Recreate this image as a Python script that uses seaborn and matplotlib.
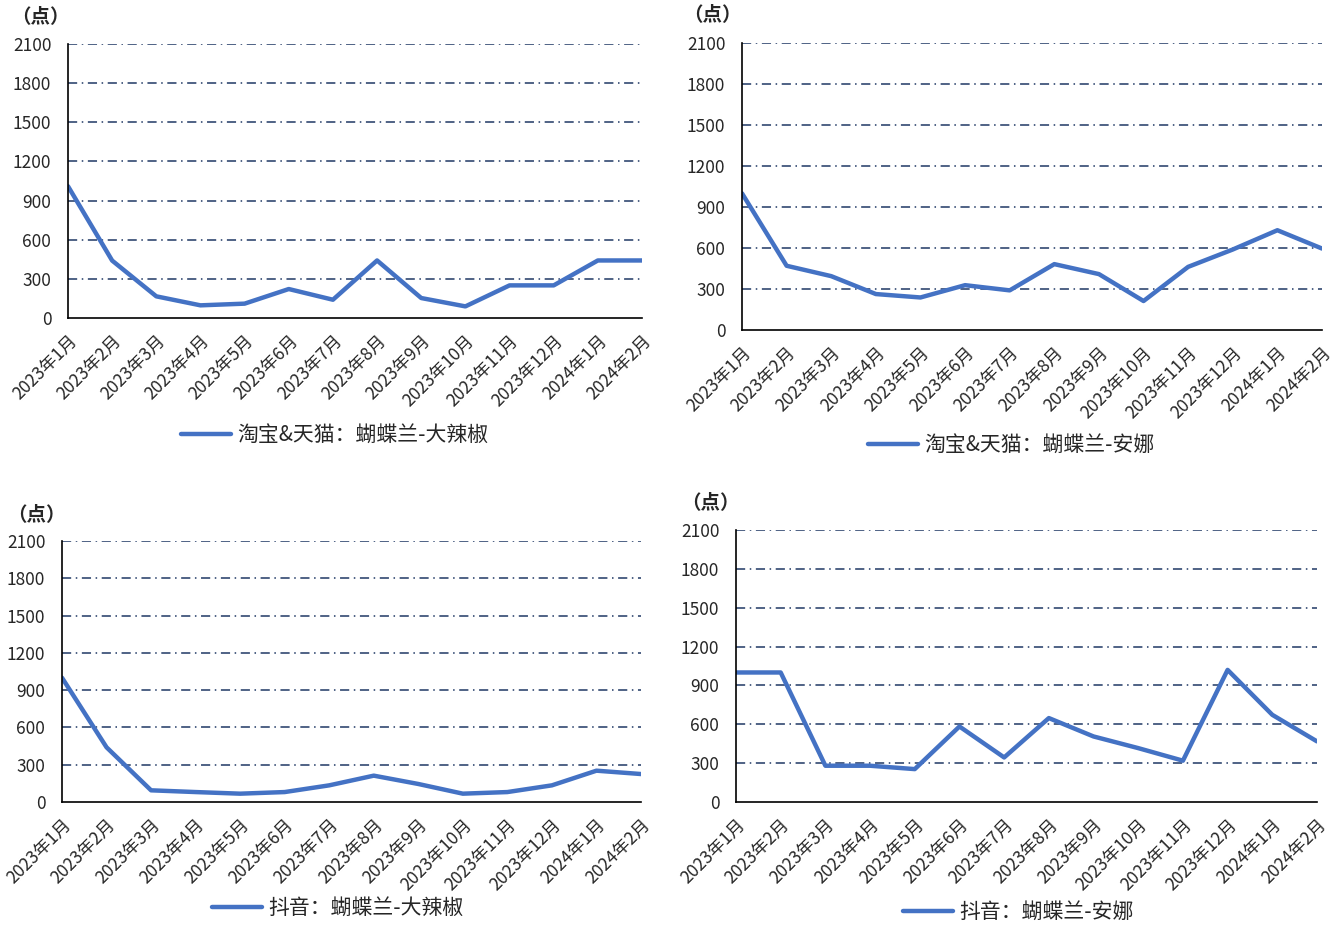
import matplotlib
matplotlib.use("Agg")
import matplotlib.pyplot as plt
import seaborn as sns
import numpy as np
import pandas as pd

sns.set_style("white")
plt.rcParams['font.family'] = ['Noto Sans CJK SC', 'DejaVu Sans']

months = ['2023年1月', '2023年2月', '2023年3月', '2023年4月', '2023年5月', '2023年6月',
          '2023年7月', '2023年8月', '2023年9月', '2023年10月', '2023年11月', '2023年12月',
          '2024年1月', '2024年2月']

tb_djl = [1010, 440, 166, 97, 110, 222, 140, 441, 153, 89, 250, 250, 441, 441]
tb_an = [1000, 470, 394, 263, 238, 328, 290, 482, 409, 212, 462, 589, 730, 596]
dy_djl = [1000, 440, 94, 80, 67, 80, 134, 212, 145, 67, 80, 134, 252, 225]
dy_an = [1000, 1000, 280, 280, 254, 583, 344, 648, 506, 416, 319, 1020, 673, 468]

series = [tb_djl, tb_an, dy_djl, dy_an]
labels = ['淘宝&天猫：蝴蝶兰-大辣椒', '淘宝&天猫：蝴蝶兰-安娜',
          '抖音：蝴蝶兰-大辣椒', '抖音：蝴蝶兰-安娜']
yticks = [0, 300, 600, 900, 1200, 1500, 1800, 2100]

W, H = 1343, 927
# axes boxes in pixels: left, top, right, bottom
boxes = [(68, 44, 642, 318), (742, 43, 1322, 330),
         (62, 541, 641, 802), (736, 530, 1317, 802)]
legend_pos = [(335, 435), (1011, 445), (338, 908), (1018, 912)]
unit_pos = [(40, 17), (712, 15), (36, 515), (710, 503)]

line_color = '#4472C4'
grid_color = '#1F3864'

fig = plt.figure(figsize=(W / 100, H / 100), dpi=100)

for vals, lab, box, lp, up in zip(series, labels, boxes, legend_pos, unit_pos):
    l, t, r, b = box
    ax = fig.add_axes([l / W, 1 - b / H, (r - l) / W, (b - t) / H])
    df = pd.DataFrame({'月份': months, '指数': vals})
    sns.lineplot(data=df, x='月份', y='指数', ax=ax, color=line_color,
                 linewidth=3.2, label=lab, sort=False)
    ax.set_xlim(0, len(months) - 1)
    ax.set_ylim(0, 2100)
    ax.set_yticks(yticks)
    ax.set_xticks(range(len(months)))
    ax.set_xticklabels(months, rotation=45, ha='right', rotation_mode='anchor',
                       fontsize=12.5)
    ax.tick_params(axis='y', labelsize=12.5, length=6, width=1, color='#1F3864', pad=6)
    ax.tick_params(axis='x', length=7, width=1, color='#1F3864', pad=3)
    ax.set_xlabel('')
    ax.set_ylabel('')
    for yv in yticks[1:]:
        ax.axhline(yv, color=grid_color, linewidth=1.1, linestyle=(0, (6, 3, 1, 3)),
                   zorder=0)
    for s in ['top', 'right']:
        ax.spines[s].set_visible(False)
    ax.spines['left'].set_color('black')
    ax.spines['bottom'].set_color('black')
    ax.spines['left'].set_linewidth(1.2)
    ax.spines['bottom'].set_linewidth(1.2)
    ax.set_facecolor('white')
    ax.legend(loc='center', bbox_to_anchor=(lp[0] / W, 1 - lp[1] / H),
              bbox_transform=fig.transFigure, frameon=False, fontsize=15,
              handlelength=2.4, handletextpad=0.3)
    fig.text(up[0] / W, 1 - up[1] / H, '（点）', ha='center', va='center',
             fontsize=14, fontweight='bold')

fig.savefig('out.png', dpi=100, facecolor='white')
